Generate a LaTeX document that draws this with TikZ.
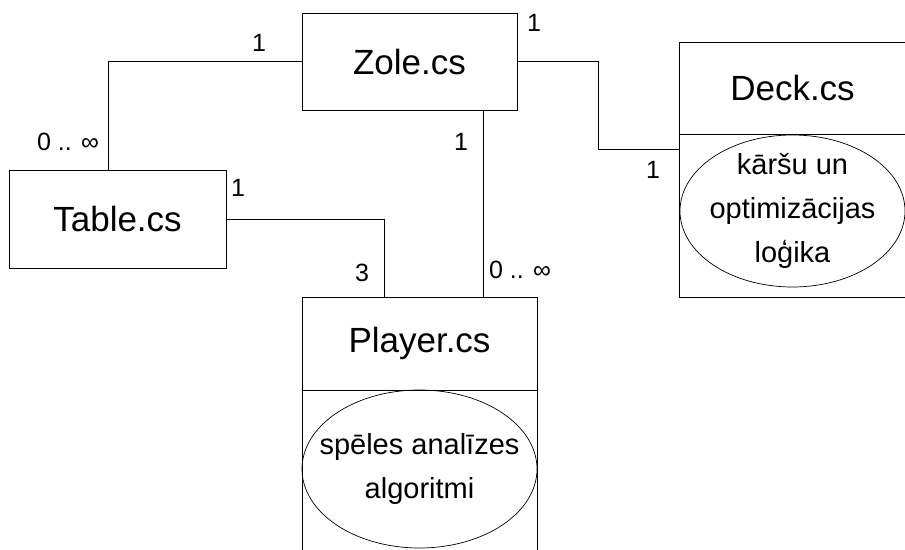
\documentclass[tikz,border=0pt]{standalone}
\usepackage{fontspec}
\setmainfont{Liberation Sans}
\usepackage{tikz}
\usetikzlibrary{positioning,shapes.geometric}

\begin{document}
\begin{tikzpicture}[x=1pt,y=-1pt,
  clsbox/.style={draw,line width=0.9pt,inner sep=0pt,font=\fontsize{35}{42}\selectfont},
  oval/.style={draw,ellipse,line width=0.7pt,inner sep=0pt},
  ovaltext/.style={align=center,inner sep=0pt,font=\fontsize{29}{44}\selectfont},
  mult/.style={inner sep=0pt,font=\fontsize{25}{30}\selectfont},
  link/.style={line width=0.9pt}]
\useasboundingbox (0,0) rectangle (905,549);

\node[clsbox,minimum width=215,minimum height=97] (zole) at (409.5,61.5) {Zole.cs};
\node[clsbox,minimum width=217,minimum height=98] (table) at (117.5,219) {Table.cs};
\node[clsbox,minimum width=227,minimum height=92] (deck) at (792.5,88) {Deck.cs};
\node[clsbox,minimum width=227,minimum height=163,anchor=north] (deckbody) at (deck.south) {};
\node[clsbox,minimum width=235,minimum height=93] (player) at (419.5,343.5) {Player.cs};
\node[clsbox,minimum width=235,minimum height=165,anchor=north] (playerbody) at (player.south) {};

\node[oval,minimum width=225,minimum height=152] (deckoval) at (792.5,211) {};
\node[ovaltext] (decknote) at (deckoval) {kāršu un\\optimizācijas\\loģika};
\node[oval,minimum width=235,minimum height=158] (playeroval) at (419.5,469) {};
\node[ovaltext] (playernote) at (playeroval) {spēles analīzes\\algoritmi};

\draw[link] (zole.west) -| ([xshift=-9.5pt]table.north);
\draw[link] (table.east) -| ([xshift=-35.5pt]player.north);
\draw[link] ([xshift=73.5pt]zole.south) -- ([xshift=73.5pt]zole.south |- player.north);
\draw[link] (zole.east) -- ++(81,0) |- ([yshift=66.5pt]deckbody.west);

% multiplicities at the line ends
\node[mult] (zoletable) at (259,43) {1};
\node[mult] (tablezole) at (68,142) {0 .. ∞};
\node[mult] (zoledeck) at (534,23) {1};
\node[mult] (deckzole) at (653,170) {1};
\node[mult] (zoleplayer) at (461,142) {1};
\node[mult] (playerzole) at (520,270) {0 .. ∞};
\node[mult] (tableplayer) at (238,188) {1};
\node[mult] (playertable) at (362,273) {3};
\end{tikzpicture}
\end{document}
